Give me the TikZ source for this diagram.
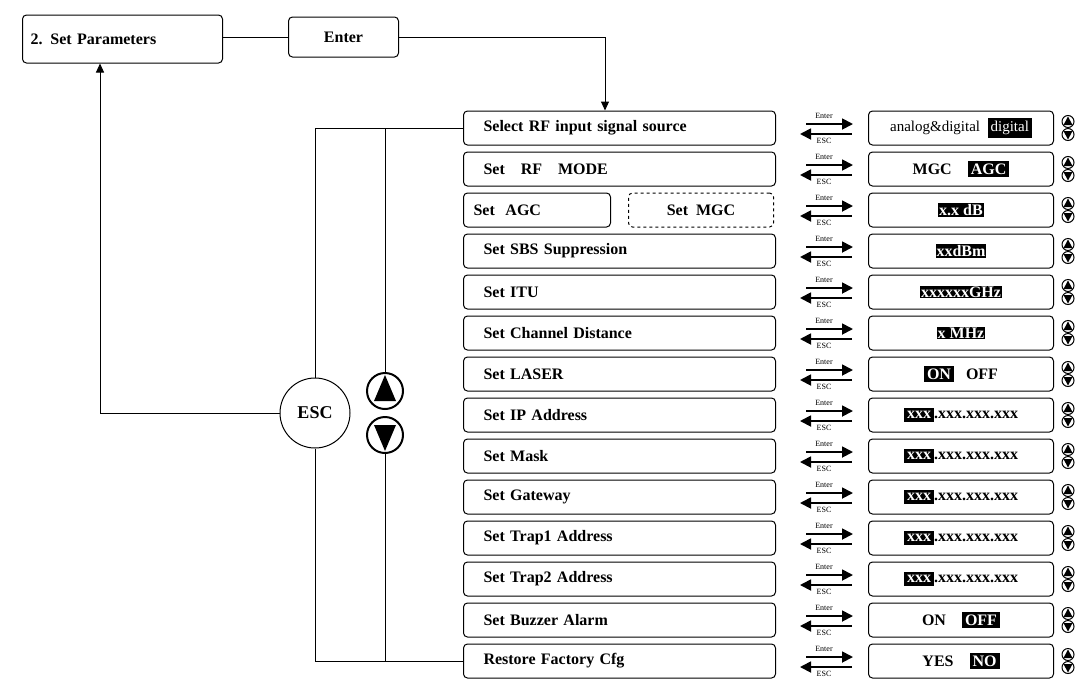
\documentclass[tikz,border=0pt]{standalone}
\usepackage{fontspec}
\setmainfont{Liberation Serif}
\usetikzlibrary{arrows.meta}
\begin{document}
\begin{tikzpicture}[x=1pt,y=-1pt,
 box/.style={draw,line width=1pt,rounded corners=4pt,minimum height=34pt,anchor=west,inner sep=0pt},
 lbl/.style={font=\bfseries\fontsize{16}{16}\selectfont},
 hi/.style={fill=black,text=white,inner sep=1pt},
 conn/.style={line width=1pt},
 arr/.style={conn,-{Triangle[length=9pt,width=8pt]}}]
\useasboundingbox (0,0) rectangle (1087,694);
\node[box,minimum width=200pt,minimum height=48pt,lbl,text width=190pt,align=left] (sp) at (22,39) {\hspace{3pt}2. Set Parameters};
\node[box,minimum width=110pt,minimum height=40pt,lbl] (en) at (288,37) {Enter};
\draw[conn] (sp.east|-en.west) -- (en.west);
\coordinate (tp) at (605,37);
\foreach \i/\t in {0/{Select RF input signal source},1/{Set~~~RF~~~MODE},2/{},3/{Set SBS Suppression},4/{Set ITU},5/{Set Channel Distance},6/{Set LASER},7/{Set IP Address},8/{Set Mask},9/{Set Gateway},10/{Set Trap1 Address},11/{Set Trap2 Address},12/{Set Buzzer Alarm},13/{Restore Factory Cfg}}{
  \pgfmathsetmacro{\yy}{128+41*\i}
  \ifnum\i=2
    \node[box,minimum width=147pt,lbl,text width=127pt,align=left] (L\i) at (463,\yy) {Set~~AGC};
    \node[box,dashed,minimum width=145pt,lbl] (M\i) at (628,\yy) {Set~~MGC};
  \else
    \node[box,minimum width=312pt,lbl,align=left,text width=272pt] (L\i) at (463,\yy) {\t};
  \fi
  \node[box,minimum width=185pt] (R\i) at (868,\yy) {};
  \draw[line width=1.8pt,-{Triangle[length=11pt,width=11pt]}] (806,\yy-4) -- (853,\yy-4);
  \draw[line width=1.8pt,-{Triangle[length=11pt,width=11pt]}] (852,\yy+6) -- (800,\yy+6);
  \node[font=\fontsize{8}{8}\selectfont,inner sep=0] at (824,\yy-12) {Enter};
  \node[font=\fontsize{8}{8}\selectfont,inner sep=0] at (824,\yy+13) {ESC};
  \draw[line width=1pt] (1068,\yy-6.5) circle (6) (1068,\yy+6.5) circle (6);
  \fill (1068,\yy-11.5) -- (1072.5,\yy-3) -- (1063.5,\yy-3) -- cycle;
  \fill (1068,\yy+11.5) -- (1072.5,\yy+3) -- (1063.5,\yy+3) -- cycle;
}
\tikzset{rt/.style={font=\bfseries\fontsize{16}{16}\selectfont}}
\node[font=\fontsize{15}{15}\selectfont] at (R0) {analog\&digital~~\colorbox{black}{\textcolor{white}{digital}}};
\node[rt] at (R1) {MGC~~~~\colorbox{black}{\textcolor{white}{AGC}}};
\node[rt,hi] at (R2) {x.x dB};
\node[rt,hi] at (R3) {xxdBm};
\node[rt,hi] at (R4) {xxxxxxGHz};
\node[rt,hi] at (R5) {x MHz};
\node[rt] at (R6) {\colorbox{black}{\textcolor{white}{ON}}~~~OFF};
\foreach \i in {7,...,11}{\node[rt] at (R\i) {\colorbox{black}{\textcolor{white}{xxx}}.xxx.xxx.xxx};}
\node[rt] at (R12) {ON~~~~\colorbox{black}{\textcolor{white}{OFF}}};
\node[rt] at (R13) {YES~~~~\colorbox{black}{\textcolor{white}{NO}}};
\draw[conn] (en.east) -- (tp);
\draw[arr] (tp) -- (L0.north-|tp);
\node[draw,circle,line width=1pt,minimum size=70pt,font=\bfseries\fontsize{18}{18}\selectfont] (esc) at (315,413) {ESC};
\node[draw,circle,line width=2pt,minimum size=36pt] (up) at (385,391) {};
\node[draw,circle,line width=2pt,minimum size=36pt] (dn) at (385,435) {};
\fill (385,375) -- (396,401) -- (374,401) -- cycle;
\fill (385,451) -- (396,425) -- (374,425) -- cycle;
\coordinate (c1) at (315,128);
\coordinate (c2) at (315,661);
\draw[conn] (L0.west) -- (c1) -- (esc.north);
\draw[conn] (esc.south) -- (c2) -- (L13.west);
\draw[conn] (385,128) -- (up.north);
\draw[conn] (dn.south) -- (385,661);
\coordinate (c3) at (100,413);
\draw[arr] (esc.west) -- (c3) -- (sp.south-|c3);
\end{tikzpicture}
\end{document}
